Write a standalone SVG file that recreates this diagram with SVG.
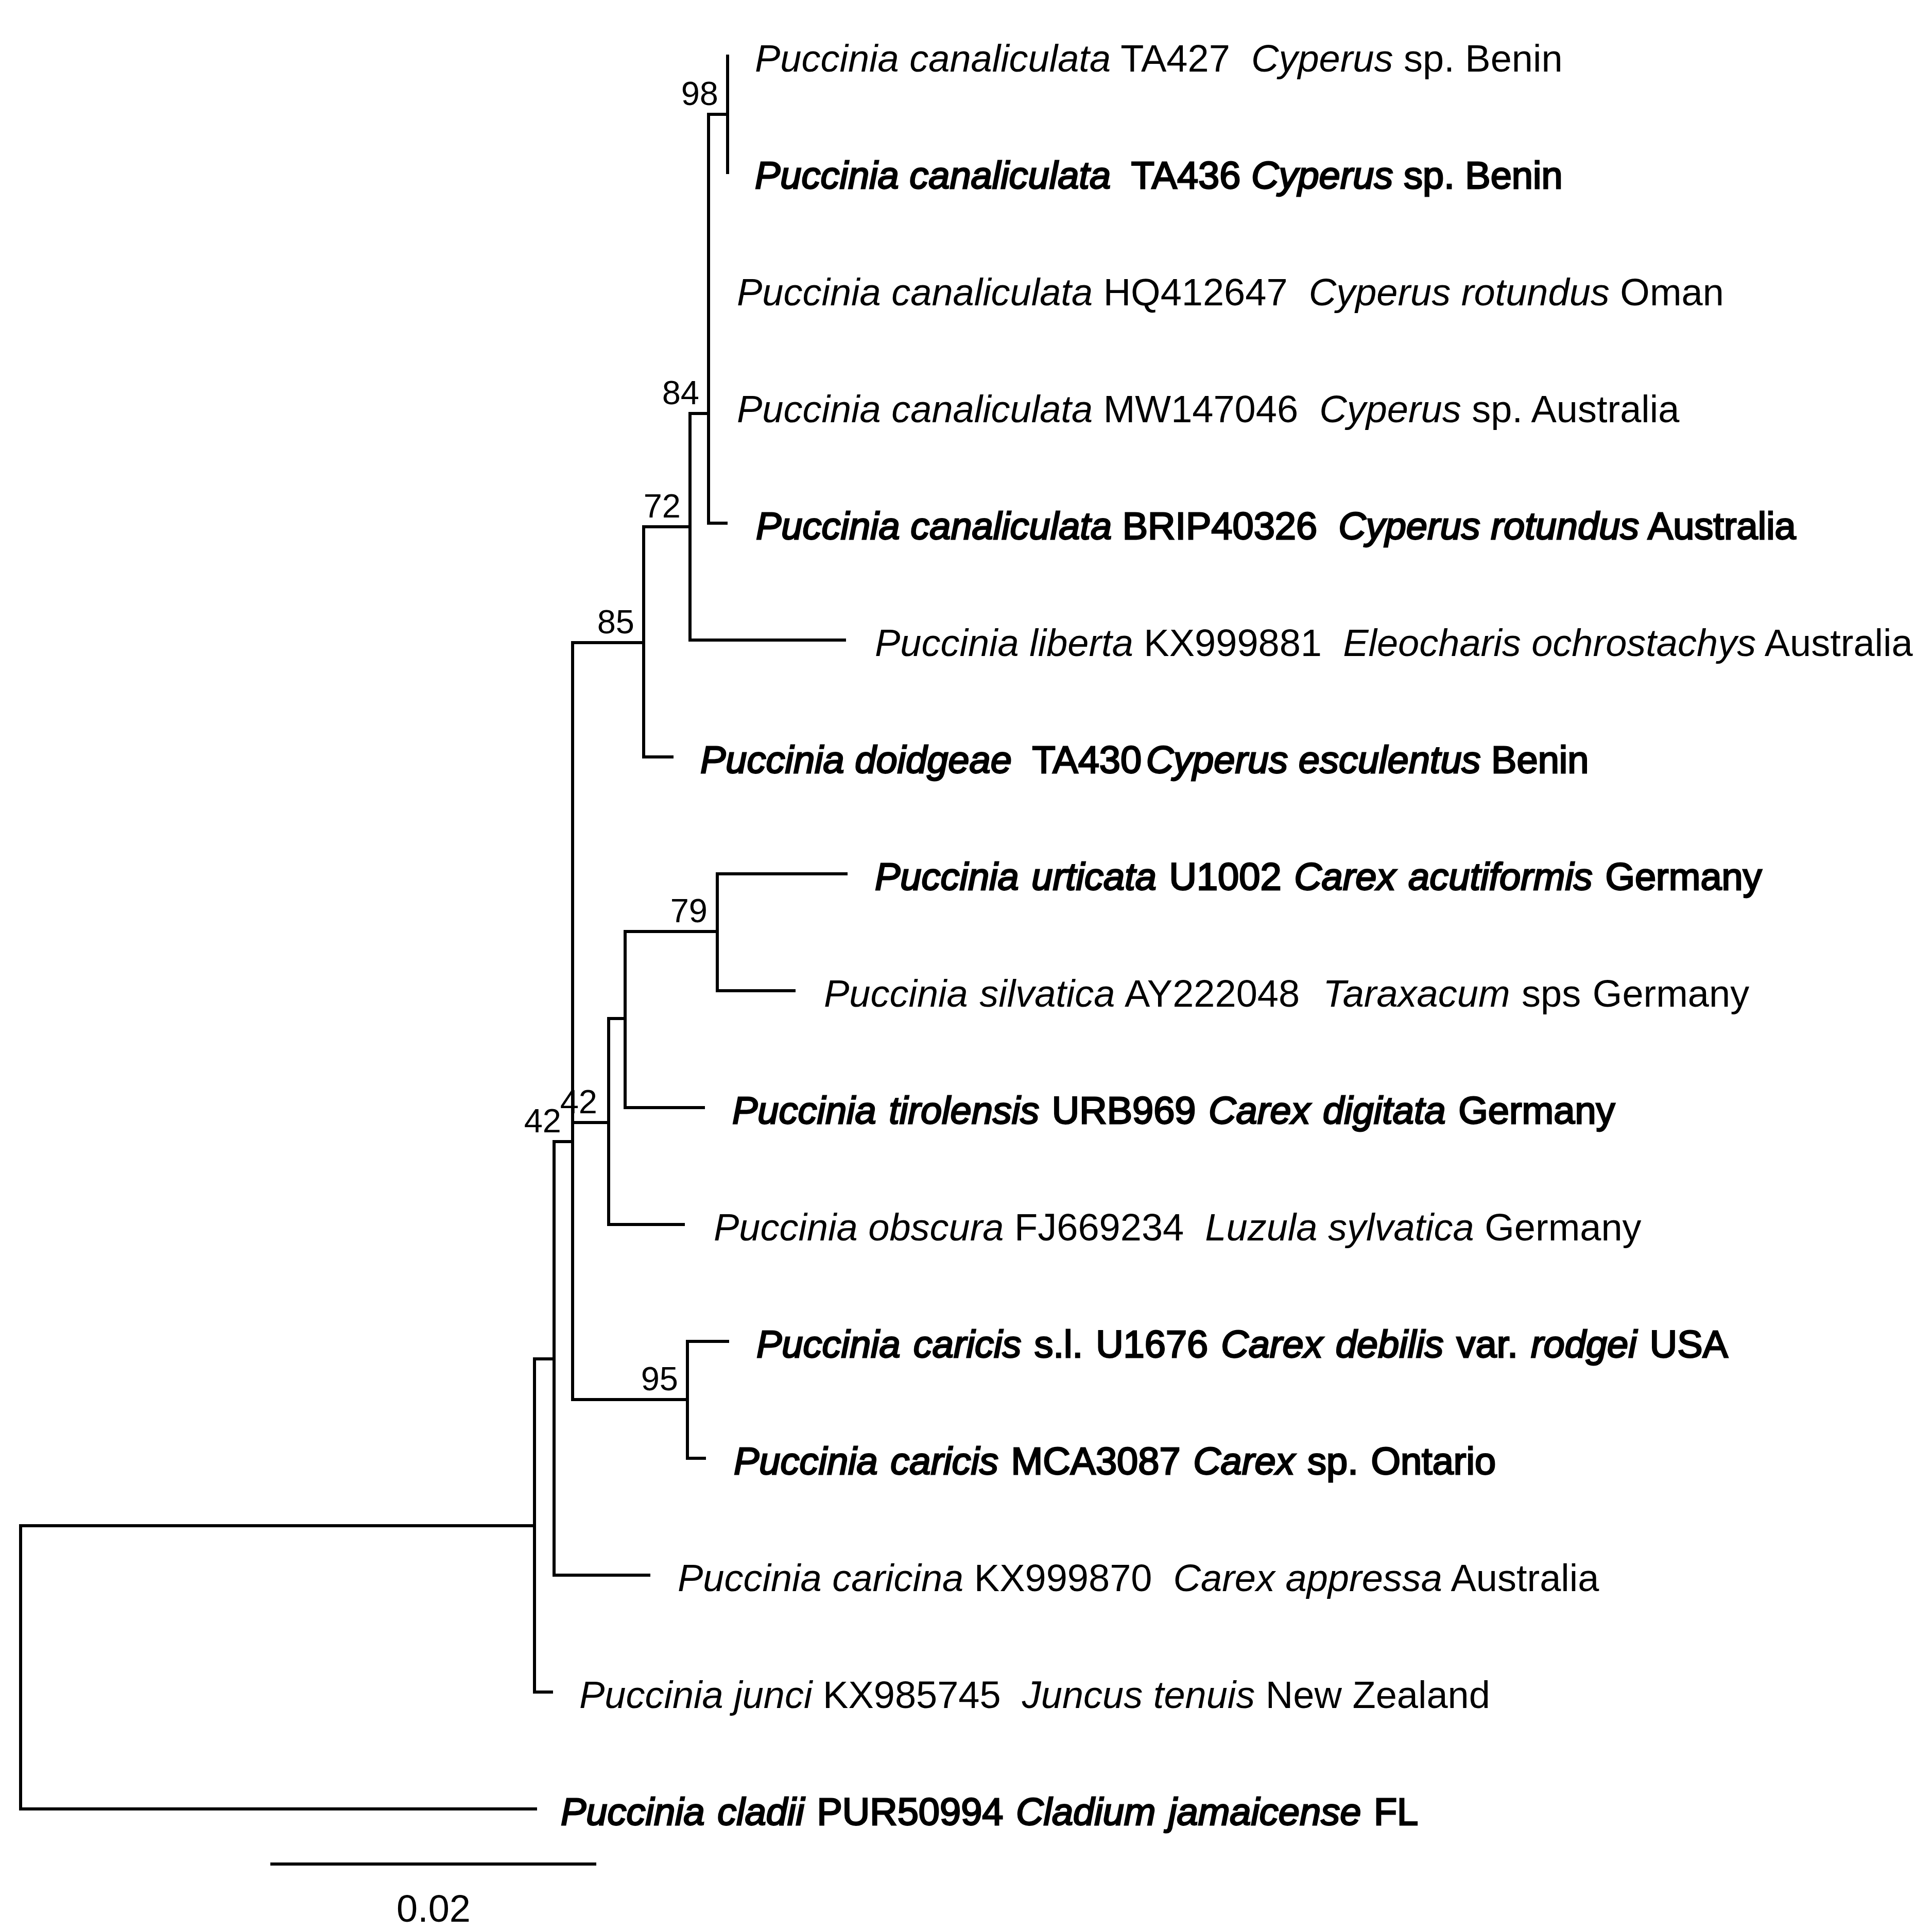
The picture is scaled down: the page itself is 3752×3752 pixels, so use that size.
<svg xmlns="http://www.w3.org/2000/svg" width="3752" height="3752" viewBox="0 0 3752 3752">
<style>
.br{fill:none;stroke:#000;stroke-width:6;stroke-linejoin:miter;stroke-linecap:butt}
.t{font-family:"Liberation Sans",Arial,sans-serif;font-size:74px;fill:#000}
.b{stroke:#000;stroke-width:2.8}
.w{word-spacing:4px}
.i{font-style:italic}
.s{font-family:"Liberation Sans",Arial,sans-serif;font-size:65px;fill:#000;text-anchor:end}
</style>
<rect width="3752" height="3752" fill="#fff"/>
<g id="connectors">
<path class="br" d="M1413 106 V338"/>
<path class="br" d="M1413 222 H1376 V1016 H1413"/>
<path class="br" d="M1376 803 H1340 V1243 H1643"/>
<path class="br" d="M1340 1023 H1250 V1470 H1308"/>
<path class="br" d="M1250 1248 H1112 V2718 H1335"/>
<path class="br" d="M1112 2180 H1182"/>
<path class="br" d="M1214 1978 H1182 V2378 H1330"/>
<path class="br" d="M1393 1809 H1214 V2151 H1369"/>
<path class="br" d="M1646 1697 H1393 V1924 H1545"/>
<path class="br" d="M1416 2605 H1335 V2832 H1371"/>
<path class="br" d="M1112 2217 H1076 V3059 H1263"/>
<path class="br" d="M1076 2639 H1038 V3286 H1074"/>
<path class="br" d="M1038 2963 H40 V3513 H1043"/>
<path class="br" d="M525 3620 H1158"/>
</g>
<g id="support-labels">
<g id="n98"><text class="s" x="1395" y="204">98</text></g>
<g id="n84"><text class="s" x="1358" y="785">84</text></g>
<g id="n72"><text class="s" x="1322" y="1005">72</text></g>
<g id="n85"><text class="s" x="1232" y="1230">85</text></g>
<g id="n79"><text class="s" x="1374" y="1791">79</text></g>
<g id="n42a"><text class="s" x="1160" y="2162">42</text></g>
<g id="n42b"><text class="s" x="1090" y="2199">42</text></g>
<g id="n95"><text class="s" x="1317" y="2700">95</text></g>
</g>
<g id="taxa">
<g id="tip1"><text class="t" x="1466" y="139" xml:space="preserve"><tspan class="i">Puccinia canaliculata</tspan> TA427  <tspan class="i">Cyperus</tspan> sp. Benin</text></g>
<g id="tip2"><text class="t b" x="1466" y="366" xml:space="preserve"><tspan class="i">Puccinia canaliculata</tspan>  TA436 <tspan class="i">Cyperus</tspan> sp. Benin</text></g>
<g id="tip3"><text class="t" x="1431" y="593" xml:space="preserve"><tspan class="i">Puccinia canaliculata</tspan> HQ412647  <tspan class="i">Cyperus rotundus</tspan> Oman</text></g>
<g id="tip4"><text class="t" x="1431" y="820" xml:space="preserve"><tspan class="i">Puccinia canaliculata</tspan> MW147046  <tspan class="i">Cyperus</tspan> sp. Australia</text></g>
<g id="tip5"><text class="t b" x="1468" y="1047" xml:space="preserve"><tspan class="i">Puccinia canaliculata</tspan> BRIP40326  <tspan class="i">Cyperus rotundus</tspan> Australia</text></g>
<g id="tip6"><text class="t" x="1699" y="1274" xml:space="preserve"><tspan class="i">Puccinia liberta</tspan> KX999881  <tspan class="i">Eleocharis ochrostachys</tspan> Australia</text></g>
<g id="tip7"><text class="t b" x="1360" y="1501" xml:space="preserve"><tspan class="i">Puccinia doidgeae</tspan>  TA430 <tspan class="i" dx="-12">Cyperus esculentus</tspan> Benin</text></g>
<g id="tip8"><text class="t b w" x="1699" y="1728" xml:space="preserve"><tspan class="i">Puccinia urticata</tspan> U1002 <tspan class="i">Carex acutiformis</tspan> Germany</text></g>
<g id="tip9"><text class="t" x="1600" y="1955" xml:space="preserve" style="word-spacing:2px"><tspan class="i">Puccinia silvatica</tspan> AY222048  <tspan class="i">Taraxacum</tspan> sps Germany</text></g>
<g id="tip10"><text class="t b w" x="1422" y="2182" xml:space="preserve"><tspan class="i">Puccinia tirolensis</tspan> URB969 <tspan class="i">Carex digitata</tspan> Germany</text></g>
<g id="tip11"><text class="t" x="1386" y="2409" xml:space="preserve"><tspan class="i">Puccinia obscura</tspan> FJ669234  <tspan class="i">Luzula sylvatica</tspan> Germany</text></g>
<g id="tip12"><text class="t b" x="1469" y="2636" xml:space="preserve" style="word-spacing:4.5px"><tspan class="i">Puccinia caricis</tspan> s.l. U1676 <tspan class="i">Carex debilis</tspan> var. <tspan class="i">rodgei</tspan> USA</text></g>
<g id="tip13"><text class="t b w" x="1425" y="2863" xml:space="preserve"><tspan class="i">Puccinia caricis</tspan> MCA3087 <tspan class="i">Carex</tspan> sp. Ontario</text></g>
<g id="tip14"><text class="t" x="1316" y="3090" xml:space="preserve"><tspan class="i">Puccinia caricina</tspan> KX999870  <tspan class="i">Carex appressa</tspan> Australia</text></g>
<g id="tip15"><text class="t" x="1125" y="3317" xml:space="preserve"><tspan class="i">Puccinia junci</tspan> KX985745  <tspan class="i">Juncus tenuis</tspan> New Zealand</text></g>
<g id="tip16"><text class="t b w" x="1089" y="3544" xml:space="preserve"><tspan class="i">Puccinia cladii</tspan> PUR50994 <tspan class="i">Cladium jamaicense</tspan> FL</text></g>
</g>
<g id="scale"><text class="t" x="842" y="3732" text-anchor="middle">0.02</text></g>
</svg>
